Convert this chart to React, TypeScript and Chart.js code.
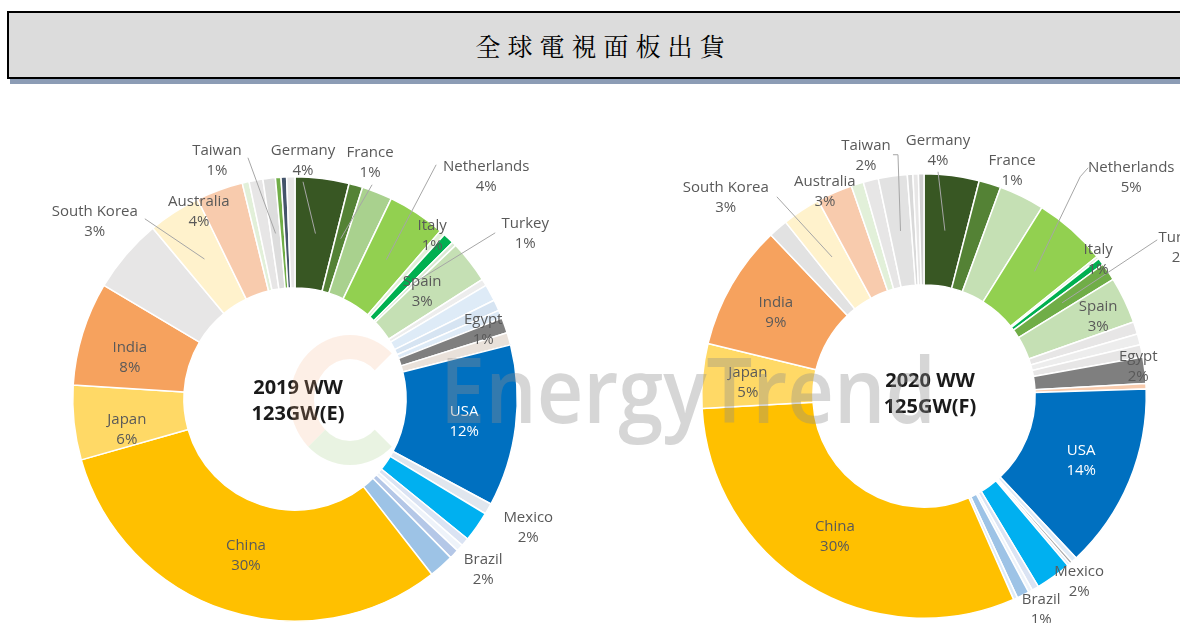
import React, { useEffect, useRef } from 'react';
import { Chart, registerables, ArcElement } from 'chart.js';

Chart.register(...registerables);

// ---------- DATA ----------
const TITLE = '全球電視面板出貨';

const CATEGORIES_2019 = [
  'Germany', 'France', 'Other A', 'Netherlands', 'Other B', 'Italy', 'Turkey', 'Spain',
  'Other C', 'Other D', 'Other E', 'Other F', 'Egypt', 'Other G', 'USA', 'Other H',
  'Mexico', 'Other I', 'Other J', 'Other K', 'Brazil', 'China', 'Japan', 'India',
  'Other L', 'South Korea', 'Australia', 'Other M', 'Other N', 'Taiwan', 'Other O',
  'Other P', 'Other Q',
];
const VALUES_2019 = [
  3.9, 1.0, 2.2, 4.2, 0.4, 0.8, 0.3, 3.1,
  0.5, 1.2, 0.8, 0.6, 1.1, 0.9, 11.7, 0.8,
  2.2, 0.6, 0.5, 0.7, 1.8, 31.0, 5.4, 7.5,
  5.4, 3.8, 3.4, 0.5, 1.0, 0.9, 0.4,
  0.4, 0.6,
];
const COLORS_2019 = [
  '#385723', '#548235', '#A9D18E', '#92D050', '#E2F0D9', '#00B050', '#D9EAD3', '#C5E0B4',
  '#EDEDED', '#DEEBF7', '#D6E4F2', '#DEEBF7', '#7F7F7F', '#E9E1DA', '#0070C0', '#E0E6EE',
  '#00B0F0', '#DAE3F3', '#EEF3FA', '#B4C7E7', '#9DC3E6', '#FFC000', '#FFD966', '#F6A25E',
  '#E7E6E6', '#FFF2CC', '#F8CBAD', '#E2F0D9', '#E7E6E6', '#DDDDDD', '#70AD47',
  '#44546A', '#E7E6E6',
];
const PCT_2019: Record<string, string> = {
  Taiwan: '1%', Germany: '4%', France: '1%', Netherlands: '4%', Italy: '1%', Turkey: '1%',
  Spain: '3%', Egypt: '1%', USA: '12%', Mexico: '2%', Brazil: '2%', China: '30%',
  Japan: '6%', India: '8%', 'South Korea': '3%', Australia: '4%',
};
const CENTER_2019 = ['2019 WW', '123GW(E)'];

const CATEGORIES_2020 = [
  'Germany', 'France', 'Other A', 'Netherlands', 'Other B', 'Italy', 'Turkey', 'Spain',
  'Other C', 'Other D', 'Other E', 'Egypt', 'Other F', 'USA', 'Other G', 'Other H',
  'Other I', 'Mexico', 'Other J', 'Other K', 'Brazil', 'Other L', 'China', 'Japan',
  'India', 'Other M', 'South Korea', 'Australia', 'Other N', 'Other O', 'Taiwan',
  'Other P', 'Other Q', 'Other R',
];
const VALUES_2020 = [
  4.0, 1.6, 3.3, 5.3, 0.2, 0.5, 1.3, 3.4,
  0.9, 0.8, 0.9, 1.9, 0.4, 13.5, 0.4, 0.2,
  0.2, 2.6, 0.5, 0.3, 0.9, 0.3, 30.7, 4.7,
  9.1, 1.4, 2.8, 2.6, 0.9, 1.1, 2.1,
  0.4, 0.4, 0.4,
];
const COLORS_2020 = [
  '#385723', '#548235', '#C5E0B4', '#92D050', '#E2F0D9', '#00B050', '#70AD47', '#C5E0B4',
  '#E7E6E6', '#EDEDED', '#E7E6E6', '#7F7F7F', '#F8CBAD', '#0070C0', '#DEEBF7', '#A6A6A6',
  '#DEEBF7', '#00B0F0', '#DAE3F3', '#EEF3FA', '#9DC3E6', '#DEEBF7', '#FFC000', '#FFD966',
  '#F6A25E', '#E2E2E2', '#FFF2CC', '#F8CBAD', '#E2F0D9', '#E7E6E6', '#E2E2E2',
  '#D9D9D9', '#E7E6E6', '#CFCFCF',
];
const PCT_2020: Record<string, string> = {
  Taiwan: '2%', Germany: '4%', France: '1%', Netherlands: '5%', Italy: '1%', Turkey: '2%',
  Spain: '3%', Egypt: '2%', USA: '14%', Mexico: '2%', Brazil: '1%', China: '30%',
  Japan: '5%', India: '9%', 'South Korea': '3%', Australia: '3%',
};
const CENTER_2020 = ['2020 WW', '125GW(F)'];

// ---------- LAYOUT (label placement relative to doughnut centre, for R = 222) ----------
type Lay = { dx: number; dy: number; color?: string; lead?: [number, number][] };

const LAYOUT_2019: Record<string, Lay> = {
  Taiwan: { dx: -78, dy: -238, lead: [[-47, -241]] },
  Germany: { dx: 8, dy: -238, lead: [[8, -217]] },
  France: { dx: 75, dy: -236, lead: [[77, -214]] },
  Netherlands: { dx: 191, dy: -222, lead: [[141, -234]] },
  Italy: { dx: 137, dy: -163 },
  Turkey: { dx: 230, dy: -165, lead: [[200, -166]] },
  Spain: { dx: 127, dy: -107 },
  Egypt: { dx: 188, dy: -69 },
  USA: { dx: 169, dy: 23, color: '#FFFFFF' },
  Mexico: { dx: 233, dy: 129 },
  Brazil: { dx: 188, dy: 171 },
  China: { dx: -49, dy: 157 },
  Japan: { dx: -168, dy: 31 },
  India: { dx: -165, dy: -41 },
  'South Korea': { dx: -200, dy: -177, lead: [[-150, -180]] },
  Australia: { dx: -96, dy: -187 },
};
const CENTER_OFFSET_2019: [number, number] = [3, 2];

const LAYOUT_2020: Record<string, Lay> = {
  Taiwan: { dx: -58, dy: -240, lead: [[-31, -241], [-26, -241]] },
  Germany: { dx: 14, dy: -245, lead: [[14, -224]] },
  France: { dx: 88, dy: -225 },
  Netherlands: { dx: 207, dy: -218, lead: [[164, -228], [156, -219]] },
  Italy: { dx: 174, dy: -136 },
  Turkey: { dx: 258, dy: -148, lead: [[233, -156]] },
  Spain: { dx: 174, dy: -79 },
  Egypt: { dx: 214, dy: -29 },
  USA: { dx: 157, dy: 65, color: '#FFFFFF' },
  Mexico: { dx: 155, dy: 186 },
  Brazil: { dx: 117, dy: 213 },
  China: { dx: -89, dy: 141 },
  Japan: { dx: -176, dy: -13 },
  India: { dx: -148, dy: -83 },
  'South Korea': { dx: -198, dy: -198, lead: [[-147, -199]] },
  Australia: { dx: -99, dy: -204 },
};
const CENTER_OFFSET_2020: [number, number] = [6, -2];

const LABEL_FONT = '15px "Open Sans", "Noto Sans", sans-serif';
const CENTER_FONT = 'bold 20px "Open Sans", "Noto Sans", sans-serif';

function makeLabelPlugin(
  categories: string[],
  pct: Record<string, string>,
  layout: Record<string, Lay>,
  center: string[],
  centerOffset: [number, number],
) {
  return {
    id: 'sliceLabels',
    afterDatasetsDraw(chart: Chart) {
      const ctx = chart.ctx;
      const meta = chart.getDatasetMeta(0);
      const a0 = meta.data[0] as unknown as ArcElement & { x: number; y: number; outerRadius: number };
      const cx = a0.x;
      const cy = a0.y;
      const k = a0.outerRadius / 222;
      ctx.save();
      // leader lines
      ctx.strokeStyle = '#A6A6A6';
      ctx.lineWidth = 1;
      categories.forEach((name, i) => {
        const lay = layout[name];
        if (!lay || !lay.lead || !pct[name]) return;
        const end = (meta.data[i] as unknown as ArcElement).getCenterPoint();
        ctx.beginPath();
        lay.lead.forEach(([dx, dy], j) => {
          const px = cx + dx * k;
          const py = cy + dy * k;
          if (j === 0) ctx.moveTo(px, py);
          else ctx.lineTo(px, py);
        });
        ctx.lineTo(end.x, end.y);
        ctx.stroke();
      });
      // labels
      ctx.font = LABEL_FONT;
      ctx.textAlign = 'center';
      ctx.textBaseline = 'middle';
      categories.forEach((name) => {
        const lay = layout[name];
        if (!lay || !pct[name]) return;
        const x = cx + lay.dx * k;
        const y = cy + lay.dy * k;
        ctx.fillStyle = lay.color || '#595959';
        ctx.fillText(name, x, y - 10);
        ctx.fillText(pct[name], x, y + 10);
      });
      // centre text
      ctx.font = CENTER_FONT;
      ctx.fillStyle = '#1A1A1A';
      ctx.fillText(center[0], cx + centerOffset[0], cy + centerOffset[1] - 13);
      ctx.fillText(center[1], cx + centerOffset[0], cy + centerOffset[1] + 13);
      ctx.restore();
    },
  };
}

type DonutProps = {
  left: number; top: number; width: number; height: number;
  padding: { left: number; right: number; top: number; bottom: number };
  categories: string[]; values: number[]; colors: string[];
  pct: Record<string, string>; layout: Record<string, Lay>;
  center: string[]; centerOffset: [number, number];
};

function Donut(p: DonutProps) {
  const ref = useRef<HTMLCanvasElement>(null);
  useEffect(() => {
    const chart = new Chart(ref.current as HTMLCanvasElement, {
      type: 'doughnut',
      data: {
        labels: p.categories,
        datasets: [{
          data: p.values,
          backgroundColor: p.colors,
          borderColor: '#FFFFFF',
          borderWidth: 1.5,
        }],
      },
      options: {
        responsive: false,
        animation: false,
        events: [],
        cutout: '50%',
        layout: { padding: p.padding },
        plugins: { legend: { display: false }, tooltip: { enabled: false } },
      },
      plugins: [makeLabelPlugin(p.categories, p.pct, p.layout, p.center, p.centerOffset)],
    });
    return () => chart.destroy();
  }, []);
  return (
    <canvas
      ref={ref}
      width={p.width}
      height={p.height}
      style={{ position: 'absolute', left: p.left, top: p.top, width: p.width, height: p.height }}
    />
  );
}

export default function App() {
  return (
    <div style={{ position: 'absolute', left: 0, top: 0, width: 1180, height: 623, overflow: 'hidden', background: '#FFFFFF' }}>
      <div
        style={{
          position: 'absolute', left: 7, top: 11, width: 1186, height: 68, boxSizing: 'border-box',
          border: '2px solid #000', background: '#DCDCDC', boxShadow: '3px 5px 0 #8C9CB5',
          display: 'flex', alignItems: 'center', justifyContent: 'center',
          fontFamily: '"Noto Serif CJK TC", "Noto Sans CJK TC", serif', fontSize: 25,
          letterSpacing: 7, paddingLeft: 7, color: '#000',
        }}
      >
        {TITLE}
      </div>
      <Donut
        left={0} top={110} width={590} height={513}
        padding={{ left: 72, right: 72, top: 66, bottom: 1 }}
        categories={CATEGORIES_2019} values={VALUES_2019} colors={COLORS_2019}
        pct={PCT_2019} layout={LAYOUT_2019} center={CENTER_2019} centerOffset={CENTER_OFFSET_2019}
      />
      <Donut
        left={590} top={110} width={590} height={513}
        padding={{ left: 111, right: 33, top: 63, bottom: 4 }}
        categories={CATEGORIES_2020} values={VALUES_2020} colors={COLORS_2020}
        pct={PCT_2020} layout={LAYOUT_2020} center={CENTER_2020} centerOffset={CENTER_OFFSET_2020}
      />
      {/* watermark */}
      <div
        style={{
          position: 'absolute', left: 290, top: 335, width: 120, height: 130, boxSizing: 'border-box',
          borderRadius: '50%', border: '24px solid rgba(244,177,131,0.2)',
          borderBottomColor: 'rgba(169,209,142,0.26)', borderRightColor: 'transparent',
          pointerEvents: 'none',
        }}
      />
      <div
        style={{
          position: 'absolute', left: 440, top: 328, fontFamily: '"Open Sans", sans-serif',
          fontSize: 90, fontWeight: 600, color: 'rgba(140,140,140,0.36)', whiteSpace: 'nowrap',
          transform: 'scaleX(0.9)', transformOrigin: 'left top', pointerEvents: 'none', lineHeight: '120px',
        }}
      >
        EnergyTrend
      </div>
    </div>
  );
}
